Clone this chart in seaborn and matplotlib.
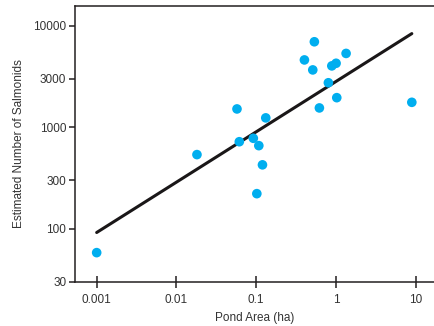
import numpy as np
import pandas as pd
import matplotlib
matplotlib.use('Agg')
import matplotlib.pyplot as plt
import seaborn as sns
from matplotlib.ticker import FixedLocator, FixedFormatter, NullLocator

# pond area (ha) and estimated salmonid numbers
pond_area = [0.001, 0.0181, 0.0575, 0.0615, 0.0922, 0.108, 0.120, 0.102, 0.132,
             0.403, 0.537, 0.513, 0.805, 0.621, 0.889, 1.006, 1.343, 1.026, 8.96]
salmonids = [58, 536, 1510, 718, 776, 657, 425, 221, 1233,
             4590, 6930, 3660, 2735, 1545, 4010, 4255, 5320, 1950, 1755]

x_ticks = [0.001, 0.01, 0.1, 1, 10]
x_labels = ['0.001', '0.01', '0.1', '1', '10']
y_ticks = [30, 100, 300, 1000, 3000, 10000]
y_labels = ['30', '100', '300', '1000', '3000', '10000']

sns.set_style('white')
plt.rcParams['font.family'] = ['Liberation Sans', 'DejaVu Sans']

df = pd.DataFrame({'area': pond_area, 'n': salmonids})

# fit in log-log space
slope, icpt = np.polyfit(np.log10(df.area), np.log10(df.n), 1)
fit = pd.DataFrame({'area': [min(pond_area), max(pond_area)]})
fit['n'] = 10 ** (icpt + slope * np.log10(fit.area))

fig = plt.figure(figsize=(4.35, 3.26), dpi=100)
ax = fig.add_axes([0.1717, 0.1359, 0.8283, 0.8457])

sns.scatterplot(data=df, x='area', y='n', ax=ax, color='#00AEEF', s=48,
                edgecolor='none', zorder=3)
sns.lineplot(data=fit, x='area', y='n', ax=ax, color='#1a1718', lw=2.2, zorder=2)

ax.set_xscale('log')
ax.set_yscale('log')
ax.set_xlim(0.00053, 17.5)
ax.set_ylim(30, 15600)

ax.xaxis.set_major_locator(FixedLocator(x_ticks))
ax.xaxis.set_major_formatter(FixedFormatter(x_labels))
ax.xaxis.set_minor_locator(NullLocator())
ax.yaxis.set_major_locator(FixedLocator(y_ticks))
ax.yaxis.set_major_formatter(FixedFormatter(y_labels))
ax.yaxis.set_minor_locator(NullLocator())

ax.tick_params(axis='x', direction='inout', length=8, width=1.1, color='#231F20',
               labelsize=8.5, labelcolor='#333333', pad=5, bottom=True)
ax.tick_params(axis='y', direction='out', length=4, width=1.1, color='#231F20',
               labelsize=8.5, labelcolor='#333333', pad=2, left=True)

for side in ['left', 'top', 'bottom']:
    ax.spines[side].set_color('#231F20')
    ax.spines[side].set_linewidth(1.1)
ax.spines['right'].set_visible(False)

ax.set_xlabel('Pond Area (ha)', fontsize=8.5, color='#333333', labelpad=4)
ax.set_ylabel('Estimated Number of Salmonids', fontsize=8.5, color='#333333', labelpad=6)

fig.savefig('out.png', dpi=100)
